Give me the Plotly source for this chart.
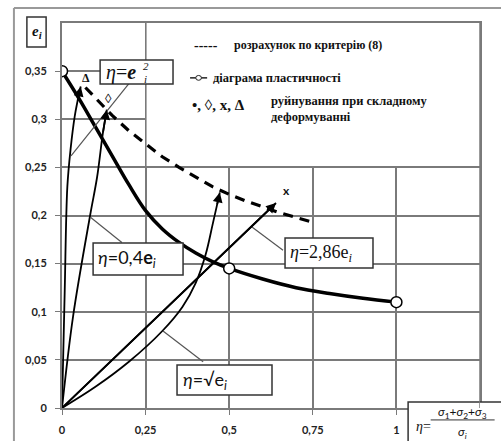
import plotly.graph_objects as go

# plasticity diagram (thick solid curve) and its three measured points
plast_x = [0, 0.05, 0.1, 0.15, 0.2, 0.25, 0.3, 0.35, 0.4, 0.45, 0.5, 0.6, 0.7, 0.8, 0.9, 1.0]
plast_y = [0.35, 0.322, 0.292, 0.262, 0.232, 0.205, 0.186, 0.172, 0.161, 0.152, 0.145, 0.134, 0.125, 0.119, 0.114, 0.11]
diag_x = [0, 0.5, 1.0]
diag_y = [0.35, 0.145, 0.11]

# calculation by criterion (8) - dashed
crit_x = [0.07, 0.1, 0.15, 0.2, 0.25, 0.3, 0.35, 0.4, 0.45, 0.5, 0.55, 0.6, 0.65, 0.7, 0.75]
crit_y = [0.333, 0.322, 0.304, 0.288, 0.274, 0.261, 0.25, 0.24, 0.23, 0.222, 0.215, 0.209, 0.203, 0.198, 0.193]

# loading paths up to fracture
delta_x = [0, 0.008, 0.016, 0.026, 0.038, 0.046, 0.056]
delta_y = [0, 0.12, 0.23, 0.27, 0.303, 0.318, 0.334]
rhomb_x = [0, 0.033, 0.084, 0.105, 0.122, 0.134]
rhomb_y = [0, 0.095, 0.2, 0.24, 0.285, 0.31]
cross_x = [0, 0.64]
cross_y = [0, 0.213]
dot_x = [0, 0.1, 0.2, 0.3, 0.36, 0.4, 0.43, 0.45, 0.463, 0.472]
dot_y = [0, 0.022, 0.048, 0.08, 0.105, 0.13, 0.16, 0.19, 0.21, 0.224]

x_ticks = [0, 0.25, 0.5, 0.75, 1]
x_labels = ["0", "0,25", "0,5", "0,75", "1"]
y_ticks = [0, 0.05, 0.1, 0.15, 0.2, 0.25, 0.3, 0.35]
y_labels = ["0", "0,05", "0,1", "0,15", "0,2", "0,25", "0,3", "0,35"]

GRID = "#7a7a7a"
SERIF = "Liberation Serif"
SANS = "Lato"

fig = go.Figure()

fig.add_trace(go.Scatter(x=crit_x, y=crit_y, mode="lines",
                         line=dict(color="black", width=3.2, dash="10px,7px")))
for px_, py_ in [(delta_x, delta_y), (rhomb_x, rhomb_y), (cross_x, cross_y), (dot_x, dot_y)]:
    fig.add_trace(go.Scatter(x=px_, y=py_, mode="lines", line=dict(color="black", width=1.8, shape="spline")))
fig.add_trace(go.Scatter(x=plast_x, y=plast_y, mode="lines", line=dict(color="black", width=3.5, shape="spline")))
fig.add_trace(go.Scatter(x=diag_x, y=diag_y, mode="markers",
                         marker=dict(symbol="circle", size=11, color="white", line=dict(color="black", width=1.5))))

# arrow heads at the ends of loading paths
for path_x, path_y in [(delta_x, delta_y), (rhomb_x, rhomb_y), (cross_x, cross_y), (dot_x, dot_y)]:
    fig.add_annotation(x=path_x[-1], y=path_y[-1], ax=path_x[-2], ay=path_y[-2],
                       xref="x", yref="y", axref="x", ayref="y", text="",
                       showarrow=True, arrowhead=2, arrowsize=1.1, arrowwidth=1.8, arrowcolor="black")

shapes = []
# white legend area covering the grid (drawn under the traces)
shapes.append(dict(type="rect", xref="x", yref="y", x0=0.253, x1=1.25, y0=0.2515, y1=0.4,
                   fillcolor="white", line=dict(width=0), layer="between"))
# legend sample for the plasticity diagram: short line with an open circle
shapes.append(dict(type="line", xref="x", yref="y", x0=0.383, x1=0.434, y0=0.343, y1=0.343,
                   line=dict(color="#222", width=1.5), layer="above"))
shapes.append(dict(type="circle", xref="x", yref="y", x0=0.4, x1=0.417, y0=0.3405, y1=0.3455,
                   fillcolor="white", line=dict(color="#222", width=1), layer="above"))

# leader lines
for x0, y0, x1, y1 in [(0.2, 0.337, 0.027, 0.262), (0.179, 0.172, 0.086, 0.198),
                       (0.661, 0.164, 0.568, 0.188), (0.422, 0.048, 0.302, 0.08)]:
    shapes.append(dict(type="line", xref="x", yref="y", x0=x0, y0=y0, x1=x1, y1=y1,
                       line=dict(color="#555", width=1.2), layer="above"))

# label boxes
label_boxes = [(0.114, 0.332, 0.3366, 0.3616), (0.093, 0.362, 0.1382, 0.1714),
               (0.667, 0.930, 0.1455, 0.1766), (0.344, 0.628, 0.0135, 0.0447)]
for x0, x1, y0, y1 in label_boxes:
    shapes.append(dict(type="rect", xref="x", yref="y", x0=x0, x1=x1, y0=y0, y1=y1,
                       fillcolor="white", line=dict(color="#333", width=1.5), layer="above"))

# outer frame, e_i box, bottom-right formula box
shapes.append(dict(type="line", xref="paper", yref="paper", x0=-0.115, x1=1.1, y0=1.039, y1=1.039,
                   line=dict(color="#999", width=2)))
shapes.append(dict(type="line", xref="paper", yref="paper", x0=-0.115, x1=-0.115, y0=1.039, y1=-0.12,
                   line=dict(color="#999", width=2)))
shapes.append(dict(type="rect", xref="paper", yref="paper", x0=-0.084, x1=-0.038, y0=0.9377, y1=1.0156,
                   fillcolor="white", line=dict(color="#333", width=1.5)))
shapes.append(dict(type="rect", xref="paper", yref="paper", x0=0.828, x1=1.1, y0=-0.12, y1=0.0156,
                   fillcolor="white", line=dict(color="#333", width=1.5)))
shapes.append(dict(type="line", xref="paper", yref="paper", x0=0.882, x1=1.035, y0=-0.031, y1=-0.031,
                   line=dict(color="#333", width=1)))

ann = []
def txt(x, y, s, size, family=SERIF, xanchor="left", xref="x", yref="y", color="#111"):
    ann.append(dict(x=x, y=y, xref=xref, yref=yref, text=s, showarrow=False, xanchor=xanchor,
                    yanchor="middle", font=dict(size=size, family=family, color=color)))

# legend texts
txt(0.39, 0.377, "<b>-----</b>", 14)
txt(0.507, 0.377, "<b>розрахунок по критерію (8)</b>", 12)
txt(0.447, 0.343, "<b>діаграма пластичності</b>", 12.5)
txt(0.384, 0.315, "<b>•, ◊, x, Δ</b>", 15)
txt(0.62, 0.319, "<b>руйнування при складному</b>", 12.5)
txt(0.62, 0.302, "<b>деформуванні</b>", 12.5)

# fracture symbols
txt(0.071, 0.343, "<b>Δ</b>", 12, xanchor="center")
txt(0.14, 0.322, "<b>◊</b>", 13, xanchor="center")
txt(0.672, 0.226, "<b>x</b>", 12, family=SANS, xanchor="center")

# box labels
txt(0.125, 0.349, "<i>η</i>=<i><b>e</b></i>", 20)
txt(0.236, 0.355, "<i>2</i>", 11)
txt(0.238, 0.342, "<i>i</i>", 11)
txt(0.103, 0.155, "<i>η</i>=0,4<b>e</b><sub><i>i</i></sub>", 18, family=SANS)
txt(0.675, 0.161, "<i>η</i>=2,86e<sub><i>i</i></sub>", 18)
txt(0.355, 0.029, "<i>η</i>=√e<sub><i>i</i></sub>", 18, family=SANS)

# axis labels in the corner boxes
txt(-0.061, 0.977, "<b><i>e</i></b><sub><b><i>i</i></b></sub>", 15, xref="paper", yref="paper", xanchor="center")
txt(0.864, -0.047, "<i>η</i>=", 14, xref="paper", yref="paper", xanchor="center")
txt(0.958, -0.012, "<i>σ</i><sub>1</sub>+<i>σ</i><sub>2</sub>+<i>σ</i><sub>3</sub>", 12, family=SANS,
    xref="paper", yref="paper", xanchor="center")
txt(0.958, -0.064, "<i>σ</i><sub><i>i</i></sub>", 12, family=SANS, xref="paper", yref="paper", xanchor="center")

fig.update_layout(
    width=501, height=441,
    margin=dict(l=62, r=21, t=23, b=33),
    paper_bgcolor="white", plot_bgcolor="white",
    showlegend=False,
    shapes=shapes, annotations=fig.layout.annotations + tuple(ann),
)
fig.update_xaxes(range=[0, 1.25], tickvals=x_ticks, ticktext=x_labels, automargin=False,
                 showgrid=True, gridcolor=GRID, gridwidth=1.5,
                 showline=True, linecolor=GRID, linewidth=2, mirror=True,
                 ticks="outside", ticklen=5, tickcolor=GRID, ticklabelstandoff=6,
                 tickfont=dict(family=SANS, size=11, color="#222", weight="bold"),
                 zeroline=False)
fig.update_yaxes(range=[0, 0.4], tickvals=y_ticks, ticktext=y_labels, automargin=False,
                 showgrid=True, gridcolor=GRID, gridwidth=1.5,
                 showline=True, linecolor=GRID, linewidth=2, mirror=True,
                 ticks="outside", ticklen=5, tickcolor=GRID, ticklabelstandoff=6,
                 tickfont=dict(family=SANS, size=11, color="#222", weight="bold"),
                 zeroline=False)
fig.add_vline(x=1.25, line=dict(color=GRID, width=1.5))

# page body has an 8px default margin; remove it so the figure fills the window
fig.write_html("out.html", config={"displayModeBar": False},
               post_script="document.body.style.margin='0';")
